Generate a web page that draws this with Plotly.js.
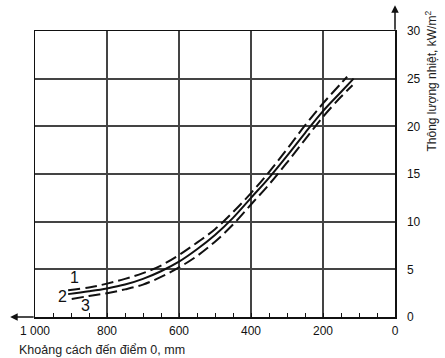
<!DOCTYPE html>
<html><head><meta charset="utf-8">
<script src="https://cdn.plot.ly/plotly-3.0.1.min.js"></script>
<style>html,body{margin:0;padding:0;background:#fff}#c{width:445px;height:358px}</style>
</head><body><div id="c"></div>
<script>
// Distance to point 0, mm (x) and heat flux, kW/m2 (y)
const x1 = [908, 850, 800, 750, 700, 650, 600, 550, 500, 450, 400, 350, 300, 250, 200, 150, 133];
const y1 = [2.8, 3.1, 3.5, 4.0, 4.6, 5.4, 6.5, 7.8, 9.2, 11.0, 13.0, 15.2, 17.6, 20.1, 22.4, 24.5, 25.2];
const x2 = [908, 850, 800, 750, 700, 650, 600, 550, 500, 450, 400, 350, 300, 250, 200, 150, 115];
const y2 = [2.4, 2.7, 3.0, 3.4, 4.0, 4.8, 5.8, 7.1, 8.6, 10.4, 12.5, 14.6, 16.9, 19.3, 21.6, 23.6, 25.0];
const x3 = [898, 850, 800, 750, 700, 650, 600, 550, 500, 450, 400, 350, 300, 250, 200, 150, 118];
const y3 = [1.9, 2.2, 2.5, 2.9, 3.4, 4.2, 5.2, 6.4, 7.9, 9.7, 11.8, 13.9, 16.2, 18.6, 21.0, 23.1, 24.3];
const curveLabels = ["1", "2", "3"];
const labelX = [891, 923, 860];
const labelY = [4.1, 2.2, 1.2];
const xTickVals = [1000, 800, 600, 400, 200, 0];
const xTickText = ["1 000", "800", "600", "400", "200", "0"];
const yTickVals = [0, 5, 10, 15, 20, 25, 30];

const tickFont = {family: "Liberation Sans Narrow, Arial Narrow, sans-serif", size: 12, color: "#111"};
const lineStyle = {color: "#111", width: 2, shape: "spline", smoothing: 1};

const traces = [
  {x: x1, y: y1, mode: "lines", line: Object.assign({}, lineStyle, {dash: "12px,5px"}), hoverinfo: "none"},
  {x: x2, y: y2, mode: "lines", line: Object.assign({}, lineStyle), hoverinfo: "none"},
  {x: x3, y: y3, mode: "lines", line: Object.assign({}, lineStyle, {dash: "12px,5px"}), hoverinfo: "none"}
];

const annotations = curveLabels.map((t, i) => ({
  x: labelX[i], y: labelY[i], xref: "x", yref: "y", text: t, showarrow: false,
  font: {family: "Liberation Sans Narrow, Arial Narrow, sans-serif", size: 16, color: "#111"}
}));
annotations.push({
  xref: "paper", yref: "paper", x: -0.069, y: 0, ax: 25, ay: 0, text: "",
  showarrow: true, arrowhead: 2, arrowsize: 1, arrowwidth: 1.5, arrowcolor: "#111"
});
annotations.push({
  xref: "paper", yref: "paper", x: 1, y: 1.09, ax: 0, ay: 26, text: "",
  showarrow: true, arrowhead: 2, arrowsize: 1, arrowwidth: 1.5, arrowcolor: "#111"
});
annotations.push({
  xref: "paper", yref: "paper", x: 1.072, y: 1.08, xanchor: "left", yanchor: "top",
  text: "Thông lượng nhiệt, kW/m<sup>2</sup>", textangle: -90, showarrow: false,
  font: {family: "Liberation Sans, Arial, sans-serif", size: 12, color: "#222"}
});
annotations.push({
  xref: "paper", yref: "paper", x: -0.05, y: -0.085, xanchor: "left", yanchor: "top",
  text: "Khoảng cách đến điểm 0, mm", showarrow: false,
  font: {family: "Liberation Sans, Arial, sans-serif", size: 12.5, color: "#222"}
});

const layout = {
  width: 445, height: 358,
  margin: {l: 35, r: 50, t: 31, b: 41},
  paper_bgcolor: "#fff", plot_bgcolor: "#fff",
  showlegend: false,
  xaxis: {
    range: [1000, 0], tickvals: xTickVals, ticktext: xTickText,
    ticks: "inside", ticklen: 4, tickwidth: 1, tickcolor: "#111",
    showgrid: true, gridcolor: "#444", gridwidth: 2,
    showline: true, mirror: true, linecolor: "#111", linewidth: 1.5,
    zeroline: false, tickfont: tickFont, ticklabelstandoff: 2,
    minor: {dtick: 50, tick0: 0, ticks: "inside", ticklen: 4, tickwidth: 1, tickcolor: "#111", showgrid: false}
  },
  yaxis: {
    range: [0, 30], side: "right", tickvals: yTickVals,
    ticks: "", showgrid: true, gridcolor: "#444", gridwidth: 2,
    showline: true, mirror: true, linecolor: "#111", linewidth: 1.5,
    zeroline: false, tickfont: tickFont, ticklabelstandoff: 8
  },
  annotations: annotations
};

Plotly.newPlot("c", traces, layout, {staticPlot: true});
</script></body></html>
